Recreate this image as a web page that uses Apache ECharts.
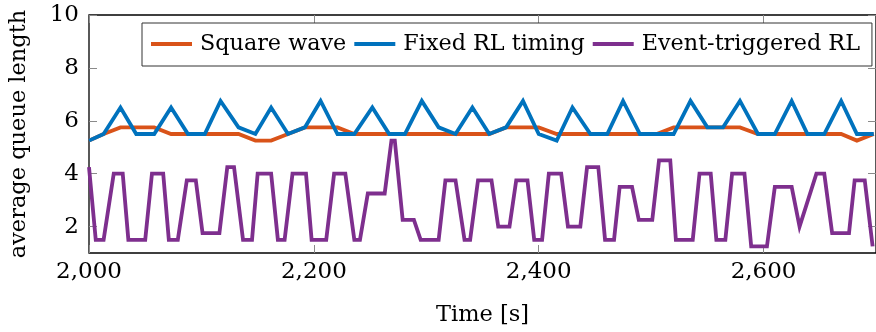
<!DOCTYPE html>
<html><head><meta charset="utf-8">
<script src="https://cdn.jsdelivr.net/npm/echarts@6/dist/echarts.min.js"></script>
<style>html,body{margin:0;padding:0;background:#fff}#c{width:876px;height:332px}</style>
</head><body><div id="c"></div>
<script>
// Time stamps shared by the square-wave and fixed-RL series
const times = [2000, 2013, 2028, 2042, 2058, 2073, 2088, 2103, 2117, 2133, 2148, 2162, 2177, 2192, 2206, 2221,
  2236, 2252, 2267, 2281, 2296, 2311, 2326, 2341, 2356, 2371, 2386, 2400, 2416, 2430, 2446, 2461,
  2475, 2490, 2505, 2520, 2535, 2550, 2564, 2579, 2595, 2610, 2625, 2639, 2654, 2669, 2683, 2698];
const squareWave = [5.25, 5.5, 5.75, 5.75, 5.75, 5.5, 5.5, 5.5, 5.5, 5.5, 5.25, 5.25, 5.5, 5.75, 5.75, 5.75,
  5.5, 5.5, 5.5, 5.5, 5.5, 5.5, 5.5, 5.5, 5.5, 5.75, 5.75, 5.75, 5.5, 5.5, 5.5, 5.5,
  5.5, 5.5, 5.5, 5.75, 5.75, 5.75, 5.75, 5.75, 5.5, 5.5, 5.5, 5.5, 5.5, 5.5, 5.25, 5.5];
const fixedRL = [5.25, 5.5, 6.5, 5.5, 5.5, 6.5, 5.5, 5.5, 6.75, 5.75, 5.5, 6.5, 5.5, 5.75, 6.75, 5.5,
  5.5, 6.5, 5.5, 5.5, 6.75, 5.75, 5.5, 6.5, 5.5, 5.75, 6.75, 5.5, 5.25, 6.5, 5.5, 5.5,
  6.75, 5.5, 5.5, 5.5, 6.75, 5.75, 5.75, 6.75, 5.5, 5.5, 6.75, 5.5, 5.5, 6.75, 5.5, 5.5];
// Event-triggered series has its own (irregular) time stamps
const eventTimes = [2000, 2006, 2013, 2022, 2030, 2035, 2050, 2056, 2066, 2071, 2079, 2087, 2095, 2101, 2116,
  2123, 2129, 2137, 2145, 2150, 2162, 2168, 2174, 2181, 2193, 2198, 2211, 2218, 2228, 2236, 2241,
  2248, 2263, 2269, 2272, 2279, 2289, 2295, 2311, 2317, 2326, 2334, 2339, 2346, 2358, 2364, 2374,
  2380, 2390, 2396, 2403, 2409, 2420, 2426, 2437, 2443, 2453, 2459, 2467, 2472, 2483, 2489, 2501,
  2507, 2517, 2522, 2537, 2543, 2553, 2558, 2566, 2572, 2583, 2589, 2603, 2610, 2625, 2632, 2647,
  2654, 2661, 2676, 2681, 2690, 2697];
const eventRL = [4.25, 1.5, 1.5, 4.0, 4.0, 1.5, 1.5, 4.0, 4.0, 1.5, 1.5, 3.75, 3.75, 1.75, 1.75,
  4.25, 4.25, 1.5, 1.5, 4.0, 4.0, 1.5, 1.5, 4.0, 4.0, 1.5, 1.5, 4.0, 4.0, 1.5, 1.5,
  3.25, 3.25, 5.25, 5.25, 2.25, 2.25, 1.5, 1.5, 3.75, 3.75, 1.5, 1.5, 3.75, 3.75, 2.0, 2.0,
  3.75, 3.75, 1.5, 1.5, 4.0, 4.0, 2.0, 2.0, 4.25, 4.25, 1.5, 1.5, 3.5, 3.5, 2.25, 2.25,
  4.5, 4.5, 1.5, 1.5, 4.0, 4.0, 1.5, 1.5, 4.0, 4.0, 1.25, 1.25, 3.5, 3.5, 2.0, 4.0,
  4.0, 1.75, 1.75, 3.75, 3.75, 1.25];
const seriesNames = ['Square wave', 'Fixed RL timing', 'Event-triggered RL'];
const xTicks = [2000, 2200, 2400, 2600];
const yTicks = [2, 4, 6, 8, 10];

const zip = (a, b) => a.map((v, i) => [v, b[i]]);
const FONT = 'DejaVu Serif';
const fmt = v => String(v).replace(/\B(?=(\d{3})+(?!\d))/g, ',');
const tickStyle = {show: true, inside: true, length: 8, lineStyle: {color: '#8a8a8a', width: 1}};

const chart = echarts.init(document.getElementById('c'), null, {renderer: 'canvas'});
chart.setOption({
  animation: false,
  backgroundColor: '#fff',
  color: ['#D95319', '#0072BD', '#7E2F8E'],
  grid: {left: 86, right: -2, top: 15, bottom: 78, show: true, borderColor: '#000', borderWidth: 1.3, backgroundColor: 'transparent'},
  legend: {
    data: seriesNames, left: 142, top: 23, width: 760, orient: 'horizontal',
    icon: 'rect', itemWidth: 41, itemHeight: 4, itemGap: 8,
    padding: [10, 12, 11, 9], borderColor: '#333', borderWidth: 1, backgroundColor: '#fff',
    textStyle: {fontFamily: FONT, fontSize: 22.3, color: '#000', padding: [0, 0, 0, 3]}
  },
  xAxis: [{
    type: 'value', min: 2000, max: 2700, position: 'bottom',
    axisLine: {show: false}, splitLine: {show: false},
    axisTick: Object.assign({customValues: xTicks}, tickStyle),
    axisLabel: {customValues: xTicks, formatter: fmt, margin: 8, fontFamily: FONT, fontSize: 23, color: '#000'},
    name: 'Time [s]', nameLocation: 'middle', nameGap: 51,
    nameTextStyle: {fontFamily: FONT, fontSize: 22.5, color: '#000'}
  }, {
    type: 'value', min: 2000, max: 2700, position: 'top',
    axisLine: {show: false}, splitLine: {show: false},
    axisTick: Object.assign({customValues: xTicks}, tickStyle),
    axisLabel: {show: false}
  }],
  yAxis: [{
    type: 'value', min: 1, max: 10, position: 'left',
    axisLine: {show: false}, splitLine: {show: false},
    axisTick: Object.assign({customValues: yTicks}, tickStyle),
    axisLabel: {customValues: yTicks, margin: 10, fontFamily: FONT, fontSize: 23, color: '#000'},
    name: 'average queue length', nameLocation: 'middle', nameGap: 58, nameRotate: 90,
    nameTextStyle: {fontFamily: FONT, fontSize: 22.5, color: '#000'}
  }, {
    type: 'value', min: 1, max: 10, position: 'right',
    axisLine: {show: false}, splitLine: {show: false},
    axisTick: Object.assign({customValues: yTicks}, tickStyle),
    axisLabel: {show: false}
  }],
  series: [
    {name: seriesNames[0], type: 'line', data: zip(times, squareWave), showSymbol: false, symbol: 'none',
     lineStyle: {width: 3.8, join: 'miter'}, clip: true},
    {name: seriesNames[1], type: 'line', data: zip(times, fixedRL), showSymbol: false, symbol: 'none',
     lineStyle: {width: 3.8, join: 'miter'}, clip: true},
    {name: seriesNames[2], type: 'line', data: zip(eventTimes, eventRL), showSymbol: false, symbol: 'none',
     lineStyle: {width: 3.8, join: 'miter'}, clip: true}
  ]
});
</script></body></html>
